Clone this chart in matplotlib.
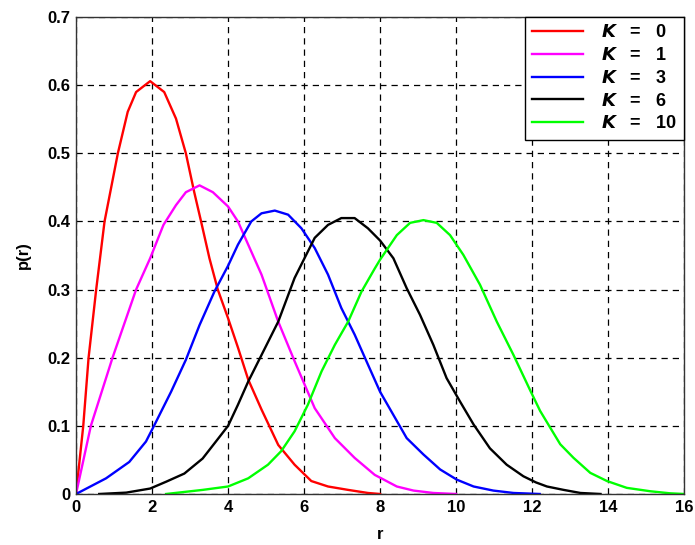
import numpy as np
from matplotlib import pyplot as plt

# values
r_k0 = [0, 0.19, 0.33, 0.53, 0.75, 1.10, 1.36, 1.58, 1.95, 2.32, 2.63, 2.89, 3.11, 3.29,
        3.51, 3.73, 4.0, 4.26, 4.53, 4.88, 5.32, 5.75, 6.19, 6.63, 7.16, 7.68, 8.0]
p_k0 = [0, 0.1, 0.2, 0.3, 0.4, 0.5, 0.561, 0.59, 0.606, 0.59, 0.551, 0.5, 0.443, 0.4,
        0.346, 0.3, 0.258, 0.215, 0.168, 0.124, 0.072, 0.043, 0.019, 0.011, 0.006, 0.0015, 0]

r_k1 = [0, 0.39, 0.96, 1.58, 1.95, 2.3, 2.63, 2.89, 3.25, 3.6, 4.0, 4.26, 4.53, 4.88,
        5.32, 5.75, 6.28, 6.81, 7.33, 7.86, 8.1, 8.44, 8.88, 9.4, 10.0]
p_k1 = [0, 0.1, 0.2, 0.3, 0.346, 0.395, 0.424, 0.443, 0.453, 0.443, 0.422, 0.4, 0.366, 0.322,
        0.253, 0.195, 0.126, 0.082, 0.053, 0.028, 0.021, 0.011, 0.005, 0.0015, 0]

r_k3 = [0, 0.79, 1.40, 1.84, 2.06, 2.5, 2.89, 3.25, 3.64, 4.0, 4.26, 4.61, 4.88, 5.23,
        5.58, 5.93, 6.28, 6.63, 6.98, 7.33, 7.68, 8.0, 8.35, 8.7, 9.14, 9.58, 10.02, 10.46,
        10.98, 11.51, 12.2]
p_k3 = [0, 0.023, 0.047, 0.077, 0.101, 0.150, 0.197, 0.248, 0.297, 0.335, 0.366, 0.4, 0.412, 0.416,
        0.41, 0.39, 0.361, 0.322, 0.273, 0.234, 0.19, 0.15, 0.116, 0.082, 0.058, 0.036, 0.021, 0.011,
        0.005, 0.0015, 0]

r_k6 = [0.61, 1.32, 1.95, 2.37, 2.85, 3.33, 3.68, 4.0, 4.26, 4.53, 4.88, 5.32, 5.75, 6.28,
        6.63, 6.98, 7.33, 7.68, 8.0, 8.35, 8.7, 9.05, 9.4, 9.75, 10.1, 10.46, 10.89, 11.33,
        11.77, 12.1, 12.39, 12.83, 13.27, 13.8]
p_k6 = [0, 0.002, 0.008, 0.018, 0.030, 0.052, 0.077, 0.1, 0.131, 0.165, 0.204, 0.253, 0.317, 0.376,
        0.395, 0.405, 0.405, 0.39, 0.372, 0.346, 0.302, 0.263, 0.219, 0.17, 0.136, 0.102, 0.067, 0.043,
        0.026, 0.017, 0.011, 0.006, 0.0015, 0]

r_k10 = [2.37, 3.33, 4.0, 4.53, 5.05, 5.4, 5.75, 6.1, 6.46, 6.81, 7.16, 7.51, 7.86, 8.0,
         8.44, 8.79, 9.14, 9.49, 9.84, 10.19, 10.63, 11.07, 11.51, 11.95, 12.21, 12.48, 12.74,
         13.09, 13.53, 13.97, 14.49, 15.11, 15.63, 16.0]
p_k10 = [0, 0.006, 0.011, 0.023, 0.043, 0.063, 0.092, 0.131, 0.18, 0.219, 0.253, 0.297, 0.331, 0.344,
         0.38, 0.398, 0.402, 0.398, 0.38, 0.351, 0.307, 0.253, 0.204, 0.152, 0.122, 0.097, 0.073,
         0.053, 0.031, 0.019, 0.009, 0.004, 0.001, 0]

k_values = ['0', '1', '3', '6', '10']
colors = ['#ff0000', '#ff00ff', '#0000ff', '#000000', '#00ff00']

plt.rcParams['font.family'] = ['Liberation Sans', 'DejaVu Sans']
plt.rcParams['font.weight'] = 'bold'

fig = plt.figure(figsize=(6.95, 5.45), dpi=100)
ax = fig.add_axes([0.1094, 0.0936, 0.875, 0.875])

curves = [(r_k0, p_k0), (r_k1, p_k1), (r_k3, p_k3), (r_k6, p_k6), (r_k10, p_k10)]
for (r, p), k, c in zip(curves, k_values, colors):
    ax.plot(r, p, color=c, lw=1.7, label=r'$\boldsymbol{K}$   =   ' + k)

ax.set_xlim(0, 16)
ax.set_ylim(0, 0.7)
ax.set_xticks(np.arange(0, 17, 2))
ax.set_yticks(np.arange(0, 0.71, 0.1))
ax.set_yticklabels(['0'] + ['%.1f' % v for v in np.arange(0.1, 0.71, 0.1)])
ax.tick_params(labelsize=12, direction='in', length=0, pad=4)
ax.grid(True, color='black', linestyle=(0, (5, 4)), lw=0.9)
for s in ax.spines.values():
    s.set_linewidth(1.0)
    s.set_color('#333333')

ax.set_xlabel('r', fontsize=12, fontweight='bold', labelpad=9)
ax.set_ylabel('p(r)', fontsize=12, fontweight='bold', labelpad=12)

leg = ax.legend(loc='upper right', fontsize=13, frameon=True, fancybox=False,
                framealpha=1, edgecolor='black', borderaxespad=0, handlelength=2.8,
                labelspacing=0.32, borderpad=0.4, handletextpad=1.0)
leg.get_frame().set_linewidth(1.0)

plt.savefig('out.png', dpi=100)
